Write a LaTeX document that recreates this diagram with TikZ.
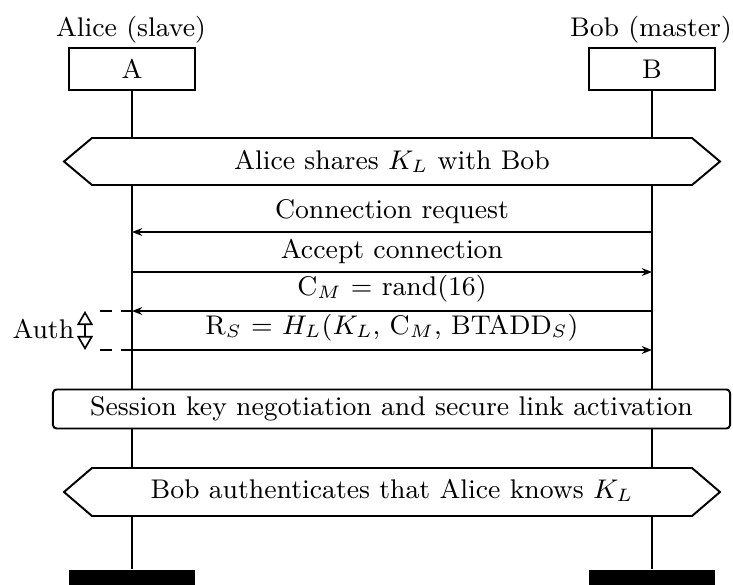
\documentclass[tikz,border=0pt]{standalone}
\usetikzlibrary{arrows.meta}
\begin{document}
\begin{tikzpicture}[x=0.33333pt,y=-0.33333pt,line width=0.55pt,
  every node/.style={font=\fontsize{9}{11}\selectfont},
  inst/.style={draw, line width=0.65pt, minimum width=42pt, minimum height=14pt, inner sep=0pt},
  endbox/.style={fill=black, minimum width=42pt, minimum height=10pt, inner sep=0pt},
  msg/.style={-{Stealth[length=3.4pt,width=2.6pt]}},
  lbl/.style={anchor=south, inner sep=2.6pt},
  hexa/.style={draw, fill=white, line width=0.65pt},
  authline/.style={dash pattern=on 4pt off 3pt},
  authtip/.style={{Triangle[open,length=4.7pt,width=5.3pt]}-{Triangle[open,length=4.7pt,width=5.3pt]}}
]
\useasboundingbox (0,0) rectangle (733,584);
% instances
\node (nA) at (131,30) {Alice (slave)};
\node[inst] (A) at (132,69) {A};
\node (nB) at (651,30) {Bob (master)};
\node[inst] (B) at (652,69) {B};
\node[endbox] (Aend) at (132,585) {};
\node[endbox] (Bend) at (652,585) {};
\draw (A.south) -- (Aend.north);
\draw (B.south) -- (Bend.north);
% hexagon 1
\draw[hexa] (64,161.5) -- (92,138) -- (692,138) -- (720,161.5) -- (692,185) -- (92,185) -- cycle;
\node (h1) at (392,161.5) {Alice shares $K_L$ with Bob};
% messages
\coordinate (a1) at (132,232); \coordinate (b1) at (652,232);
\coordinate (a2) at (132,272); \coordinate (b2) at (652,272);
\coordinate (a3) at (132,311); \coordinate (b3) at (652,311);
\coordinate (a4) at (132,350); \coordinate (b4) at (652,350);
\draw[msg] (b1) -- node[lbl] (m1) {Connection request} (a1);
\draw[msg] (a2) -- node[lbl] (m2) {Accept connection} (b2);
\draw[msg] (b3) -- node[lbl] (m3) {C$_M$ = rand(16)} (a3);
\draw[msg] (a4) -- node[lbl] (m4) {R$_S$ = $H_L$($K_L$, C$_M$, BTADD$_S$)} (b4);
% auth
\coordinate (d3) at (100,311); \coordinate (d4) at (100,350);
\coordinate (t3) at (85,311); \coordinate (t4) at (85,350);
\draw[authline] (d3) -- (a3);
\draw[authline] (d4) -- (a4);
\draw[authtip] (t3) -- (t4);
\node[anchor=east, inner sep=0pt] (auth) at (75,329) {Auth};
% session box
\node[draw, fill=white, rounded corners=1.2pt, line width=0.65pt, minimum width=225.7pt, minimum height=13pt, inner sep=0pt] (sess) at (391.5,409) {Session key negotiation and secure link activation};
% hexagon 2
\draw[hexa] (64,492) -- (92,468) -- (692,468) -- (720,492) -- (692,516) -- (92,516) -- cycle;
\node (h2) at (392,490) {Bob authenticates that Alice knows $K_L$};
\end{tikzpicture}
\end{document}
